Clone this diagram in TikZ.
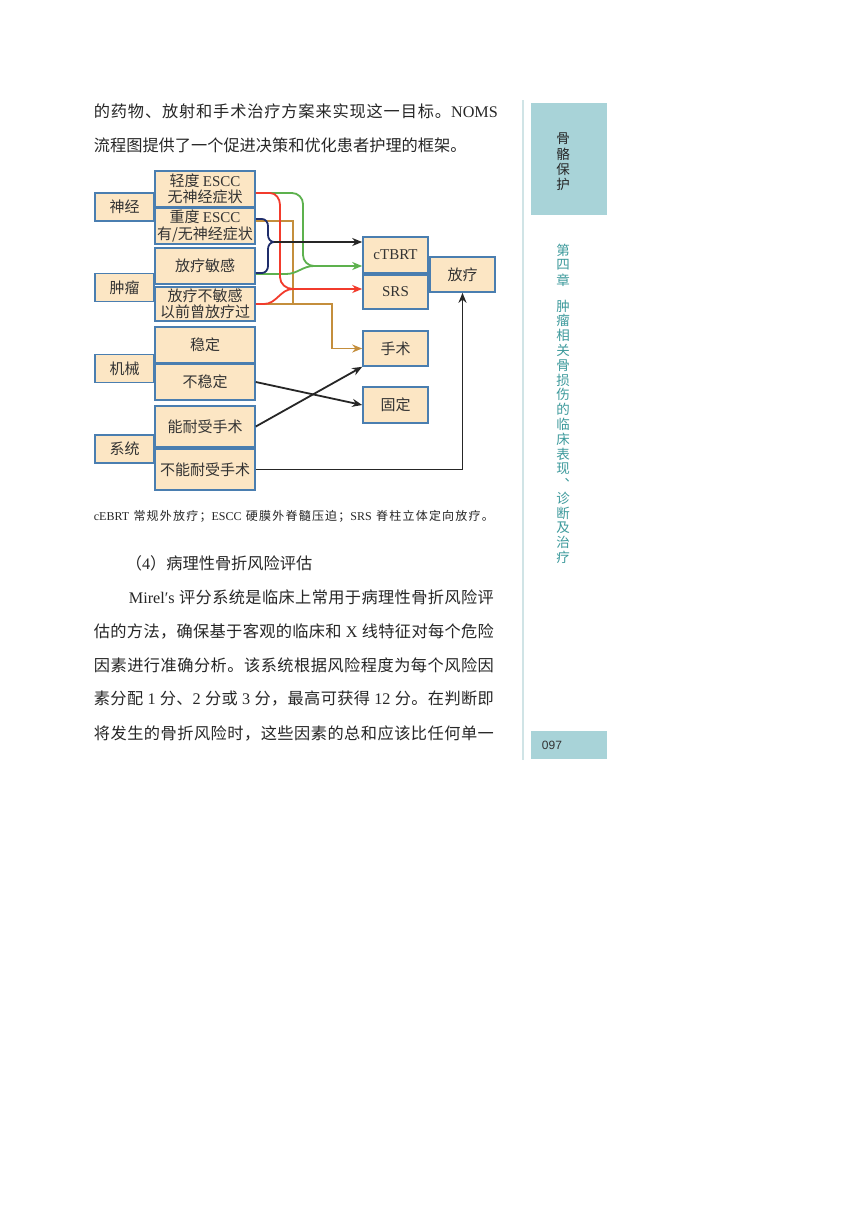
\documentclass[tikz,border=0pt]{standalone}
\usepackage{fontspec}
\usetikzlibrary{arrows.meta}
\setmainfont{Noto Sans CJK SC}
\newfontfamily\en{Liberation Serif}
\newfontfamily\ensans{Liberation Sans}
% glue between Chinese characters, used for the justified lines
\newXeTeXintercharclass\hanclass
\newcount\hancount
\hancount="3000
\loop\ifnum\hancount<"A000 \XeTeXcharclass\hancount=\hanclass \advance\hancount by 1 \repeat
\hancount="FF00
\loop\ifnum\hancount<"FFF0 \XeTeXcharclass\hancount=\hanclass \advance\hancount by 1 \repeat
\XeTeXinterchartoks\hanclass\hanclass={\hskip 0pt plus 1pt\relax}
\XeTeXinterchartoks\hanclass 0={\hskip 0pt plus 1pt\relax}
\XeTeXinterchartoks 0 \hanclass={\hskip 0pt plus 1pt\relax}
\newcommand\spreadline[2]{{\XeTeXinterchartokenstate=1 \hbadness=10000 \makebox[#1][s]{#2}}}
\definecolor{boxfill}{HTML}{FCE6C4}
\definecolor{boxline}{HTML}{4A7EB0}
\definecolor{arrowred}{HTML}{F23B2C}
\definecolor{arrowgreen}{HTML}{5DB14E}
\definecolor{arrownavy}{HTML}{1F2D6B}
\definecolor{arrowgold}{HTML}{C48E3C}
\definecolor{sidefill}{HTML}{A8D3D8}
\definecolor{sideteal}{HTML}{3D9A9C}
\definecolor{sideline}{HTML}{D0E4E6}
\begin{document}
\begin{tikzpicture}[x=1pt,y=-1pt,>={Stealth[length=10pt,width=8pt]},line width=1.8pt,color=black!85,
	box/.style={draw=boxline,fill=boxfill,line width=1.6pt,inner sep=0pt,align=center,text=black!80,font=\fontsize{15}{16.5}\selectfont},
	cat/.style={box,minimum width=59pt,minimum height=28pt},
	mid/.style={box,minimum width=100pt,minimum height=#1},mid/.default=36pt,
	res/.style={box,minimum width=65pt,minimum height=#1},res/.default=36pt,
	body/.style={anchor=west,inner sep=0pt,text=black!85,font=\fontsize{16.2}{20}\selectfont},
	side/.style={inner sep=0pt,font=\fontsize{13.5}{13.5}\selectfont}]
	\fill[white] (0,0) rectangle (867,1218);
	% text above
	\node[body] (l1) at (93,111) {\spreadline{404pt}{的药物、放射和手术治疗方案来实现这一目标。{\en NOMS}}};
	\node[body] (l2) at (93,145) {流程图提供了一个促进决策和优化患者护理的框架。};
	% left column
	\node[cat] (nerve) at (124.5,207) {神经};
	\node[cat] (tumor) at (124.5,287.5) {肿瘤};
	\node[cat] (mech) at (124.5,368.5) {机械};
	\node[cat] (system) at (124.5,449) {系统};
	\node[mid] (mild) at (205,189) {轻度 {\en ESCC}\\无神经症状};
	\node[mid] (severe) at (205,226) {重度 {\en ESCC}\\有/无神经症状};
	\node[mid] (sens) at (205,266) {放疗敏感};
	\node[mid=34pt] (insens) at (205,304) {放疗不敏感\\以前曾放疗过};
	\node[mid] (stable) at (205,345) {稳定};
	\node[mid] (unstable) at (205,382) {不稳定};
	\node[mid=41pt] (fit) at (205,426.5) {能耐受手术};
	\node[mid=41pt] (unfit) at (205,469.5) {不能耐受手术};
	% right column
	\node[res] (ctbrt) at (395.5,255) {\en cTBRT};
	\node[res=34pt] (srs) at (395.5,292) {\en SRS};
	\node[res=35pt] (surg) at (395.5,348.5) {手术};
	\node[res] (fix) at (395.5,405) {固定};
	\node[res=35pt] (rt) at (462.5,274.5) {放疗};
	% junctions
	\coordinate (jr) at (293,289);
	\coordinate (jg) at (314,266);
	\coordinate (jb) at (274,242);
	\coordinate (jo) at (293,304);
	\coordinate (ob) at (332,348.5);
	% connectors
	\draw[arrowgold] ([yshift=5pt]severe.east) -| (jo);
	\draw[arrowgold,->] (insens.east) -| (ob) -- (surg.west);
	\draw[arrowgreen,->] ([yshift=-4pt]mild.east) -- (292,193) to[out=0,in=90] (303,204) -- (303,255) to[out=-90,in=180] (jg) -- (ctbrt.west |- jg);
	\draw[arrowgreen] ([yshift=-8pt]sens.east) -- (286,274) to[out=0,in=180] (jg);
	\draw[arrowred,->] ([yshift=-4pt]mild.east) -- (270,193) to[out=0,in=90] (280,205) -- (280,277) to[out=-90,in=180] (jr) -- (srs.west |- jr);
	\draw[arrowred] (insens.east) -- (264,304) to[out=0,in=180] (jr);
	\draw[arrownavy] ([yshift=7pt]severe.east) -- (262,219) to[out=0,in=90] (268,226) -- (268,235) to[out=-90,in=180] (jb);
	\draw[arrownavy] ([yshift=-7pt]sens.east) -- (262,273) to[out=0,in=-90] (268,266) -- (268,249) to[out=90,in=180] (jb);
	\draw[->] (jb) -- (ctbrt.west |- jb);
	\draw[->] (unstable.east) -- (fix.west);
	\draw[->] (fit.east) -- (surg.south west);
	\draw[->] (unfit.east) -| (rt.south);
	% caption and text below
	\node[body,font=\fontsize{12}{14}\selectfont] (cap) at (93,516) {\spreadline{400pt}{{\en cEBRT}~常规外放疗；{\en ESCC}~硬膜外脊髓压迫；{\en SRS}~脊柱立体定向放疗。}};
	\node[body] (head) at (125,563) {（{\en 4}）病理性骨折风险评估};
	\node[body] (p1) at (128,597) {\spreadline{365pt}{{\en Mirel′s}~评分系统是临床上常用于病理性骨折风险评}};
	\node[body] (p2) at (93,631) {\spreadline{400pt}{估的方法，确保基于客观的临床和~{\en X}~线特征对每个危险}};
	\node[body] (p3) at (93,665) {\spreadline{400pt}{因素进行准确分析。该系统根据风险程度为每个风险因}};
	\node[body] (p4) at (93,699) {\spreadline{400pt}{素分配~{\en 1}~分、{\en 2}~分或~{\en 3}~分，最高可获得~{\en 12}~分。在判断即}};
	\node[body] (p5) at (93,733) {\spreadline{400pt}{将发生的骨折风险时，这些因素的总和应该比任何单一}};
	% side bar
	\draw[sideline,line width=2pt] (523,100) -- (523,760);
	\fill[sidefill] (531,103) rectangle (607,215);
	\foreach \c [count=\i from 0] in {骨,骼,保,护}
		\node[side,text=black!85] (g\i) at (563,{139+15*\i}) {\c};
	\foreach \c [count=\i from 0] in {第,四,章}
		\node[side,text=sideteal] (h\i) at (563,{250+15*\i}) {\c};
	\foreach \c [count=\i from 0] in {肿,瘤,相,关,骨,损,伤,的,临,床,表,现,︑,诊,断,及,治,疗}
		\node[side,text=sideteal] (t\i) at (563,{306+14.8*\i}) {\c};
	\fill[sidefill] (531,731) rectangle (607,759);
	\node[anchor=west,inner sep=0pt,text=black!80,font=\ensans\fontsize{12}{12}\selectfont] (page) at (541,745) {097};
\end{tikzpicture}
\end{document}
